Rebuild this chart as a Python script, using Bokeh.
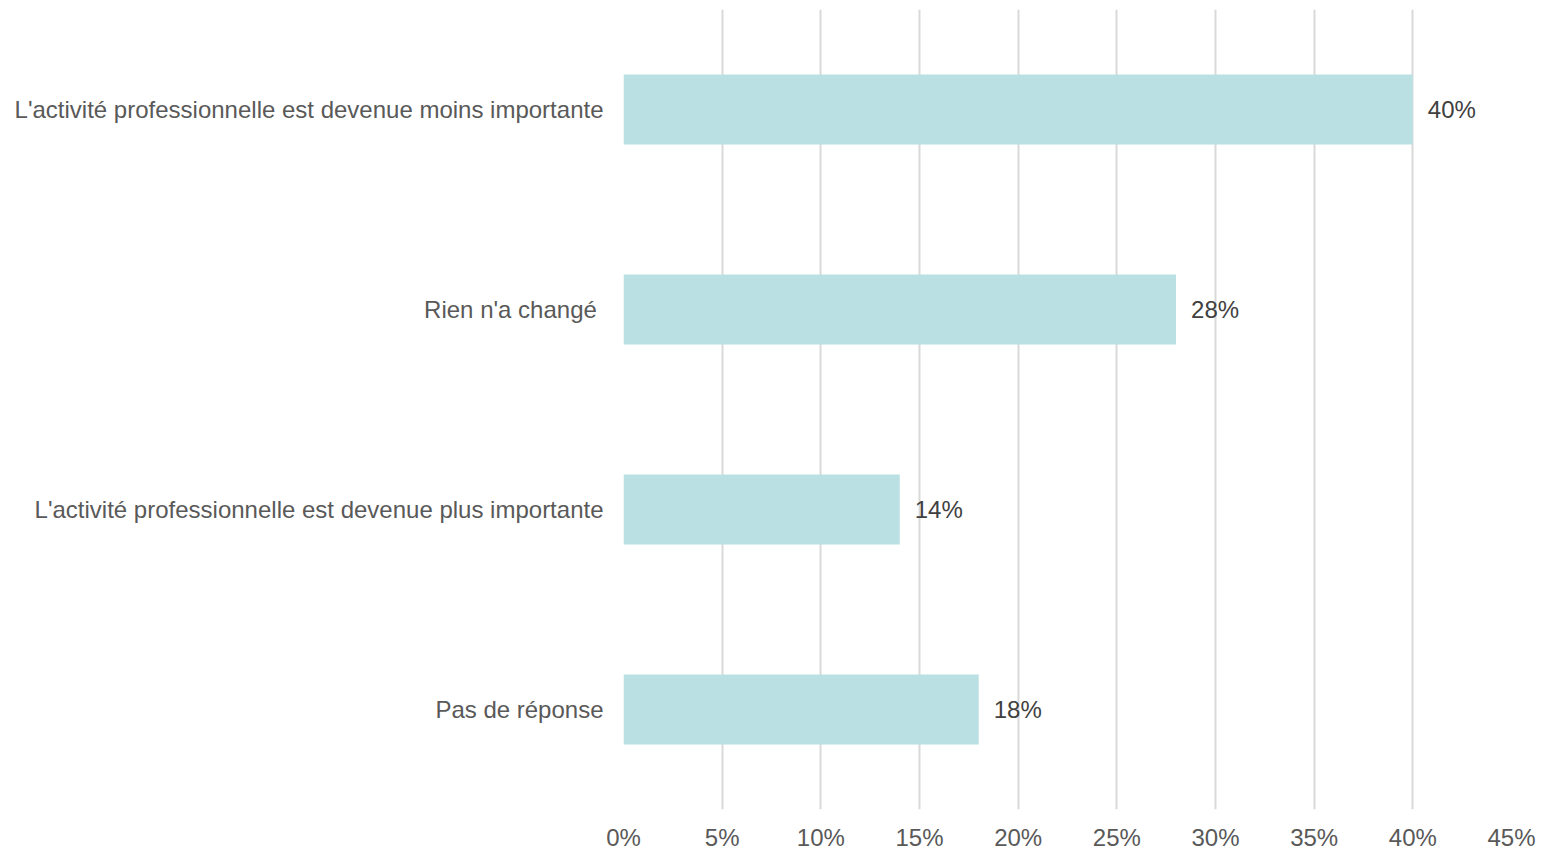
from bokeh.plotting import figure
from bokeh.models import ColumnDataSource, FixedTicker, FactorRange, Range1d
from bokeh.embed import file_html
from bokeh.resources import INLINE
from bokeh.core.properties import value

categories = [
    "L'activité professionnelle est devenue moins importante",
    "Rien n'a changé ",
    "L'activité professionnelle est devenue plus importante",
    "Pas de réponse",
]
values = [40, 28, 14, 18]
value_labels = ["40%", "28%", "14%", "18%"]
tick_values = [0, 5, 10, 15, 20, 25, 30, 35, 40, 45]
tick_labels = ["0%", "5%", "10%", "15%", "20%", "25%", "30%", "35%", "40%", "45%"]

FONT = "Liberation Sans"

src = ColumnDataSource(dict(cat=categories, val=values, lab=value_labels))

p = figure(
    y_range=FactorRange(factors=list(reversed(categories))),
    x_range=Range1d(0, 45),
    frame_width=888, frame_height=800,
    min_border_left=623, min_border_right=30, min_border_top=9, min_border_bottom=0,
    output_backend="svg", toolbar_location=None,
)
p.outline_line_color = None
p.background_fill_color = "white"
p.border_fill_color = "white"

p.hbar(y="cat", right="val", left=0, height=0.35, source=src,
       fill_color="#BAE0E3", line_color=None)

p.text(x="val", y="cat", text="lab", source=src, x_offset=15,
       text_align="left", text_baseline="middle",
       text_font=value(FONT), text_font_size="24px", text_color="#404040")

p.xaxis.ticker = FixedTicker(ticks=tick_values)
p.xaxis.major_label_overrides = {v: l for v, l in zip(tick_values, tick_labels)}
p.xaxis.axis_line_color = None
p.xaxis.major_tick_line_color = None
p.xaxis.minor_tick_line_color = None
p.xaxis.major_label_standoff = 8
p.xaxis.major_label_text_font = FONT
p.xaxis.major_label_text_font_size = "24px"
p.xaxis.major_label_text_color = "#595959"

p.yaxis.axis_line_color = None
p.yaxis.major_tick_line_color = None
p.yaxis.minor_tick_line_color = None
p.yaxis.major_label_standoff = 14
p.yaxis.major_label_text_font = FONT
p.yaxis.major_label_text_font_size = "24px"
p.yaxis.major_label_text_color = "#595959"

p.xgrid.ticker = FixedTicker(ticks=tick_values)
p.xgrid.grid_line_color = "#D9D9D9"
p.xgrid.grid_line_width = 2
p.ygrid.grid_line_color = None

open("out.html", "w").write(file_html(p, INLINE))
